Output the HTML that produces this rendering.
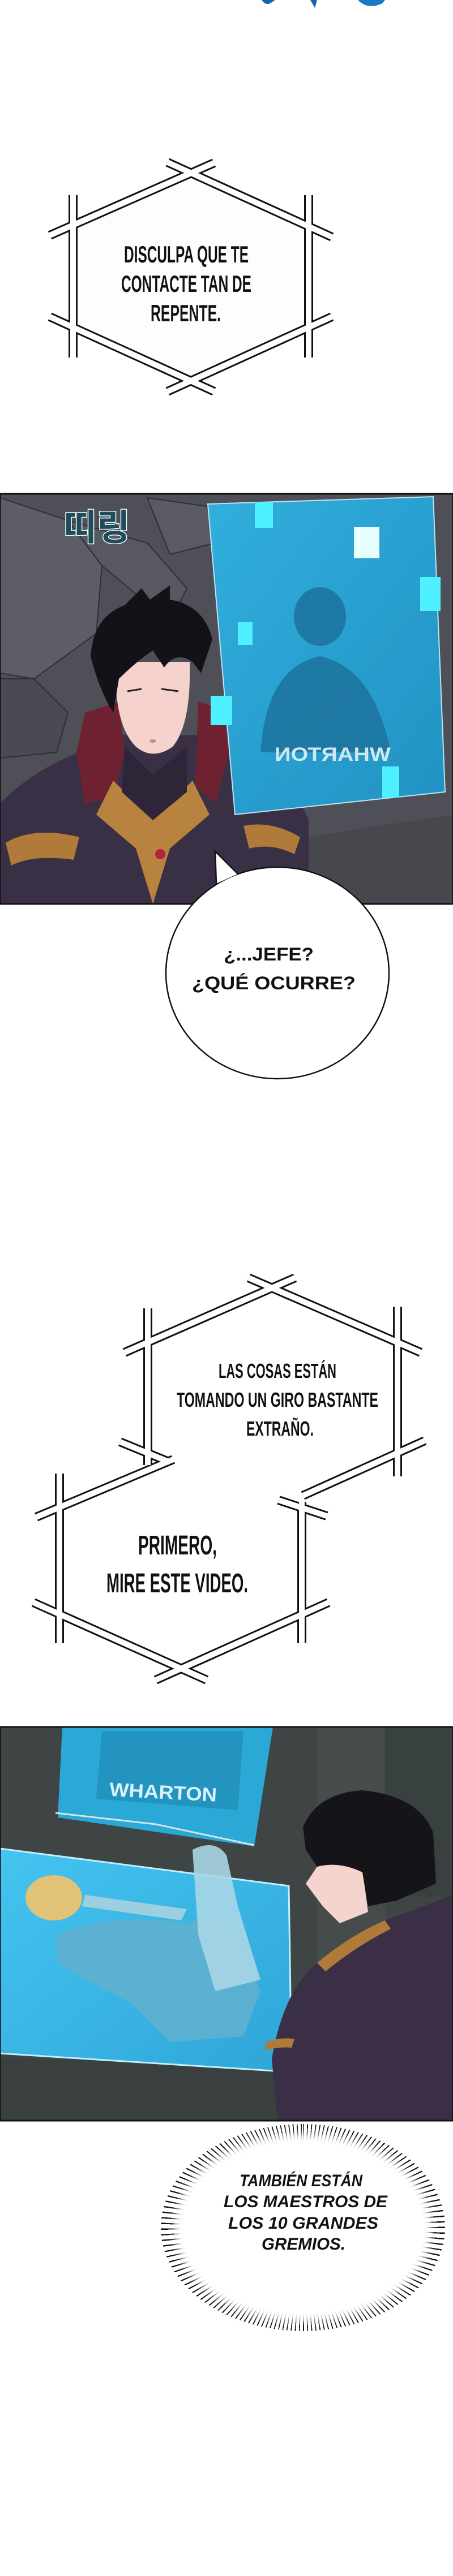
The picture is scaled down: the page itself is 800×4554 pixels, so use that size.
<!DOCTYPE html>
<html><head><meta charset="utf-8">
<style>
html,body{margin:0;padding:0;background:#fff;}
body{width:800px;height:4554px;position:relative;overflow:hidden;}
#spk{position:absolute;left:284px;top:3755px;width:502px;height:366px;border-radius:50%;
background:repeating-conic-gradient(from 0deg at 50% 50%,#111 0deg .55deg,#fff .55deg 2.3deg);}
#spkin{position:absolute;left:36px;top:30px;right:36px;bottom:30px;border-radius:50%;background:#fff;box-shadow:0 0 14px 12px #fff;}
svg{position:absolute;left:0;top:0;}
</style></head><body>
<div id="spk"><div id="spkin"></div></div>
<svg width="800" height="4554" viewBox="0 0 800 4554" xmlns="http://www.w3.org/2000/svg" font-family="'Liberation Sans', sans-serif">
<defs>
<linearGradient id="card" x1="0" y1="0" x2="1" y2="1"><stop offset="0" stop-color="#2fb4e4"/><stop offset="1" stop-color="#1f95c8"/></linearGradient>
<linearGradient id="vid" x1="0" y1="0" x2="1" y2="1"><stop offset="0" stop-color="#45c4f0"/><stop offset="1" stop-color="#2ea6d8"/></linearGradient>
</defs>
<!-- top blue strokes -->
<path d="M462 0 Q470 12 480 4 L486 0Z" fill="#1565b0"/>
<path d="M548 0 L556 14 L560 0Z" fill="#1565b0"/>
<path d="M632 0 Q650 18 675 6 L680 0Z" fill="#1a78c8"/>

<!-- HEX 1 -->
<polygon points="337,306 545,400 545,578 337,673 129,578 129,398" fill="#fbfdff"/>
<g stroke-linecap="butt" fill="none">
<g stroke="#111" stroke-width="16">
<line x1="88" y1="416" x2="378" y2="288"/><line x1="296" y1="287" x2="586" y2="419"/>
<line x1="545" y1="345" x2="545" y2="632"/><line x1="586" y1="560" x2="296" y2="692"/>
<line x1="378" y1="692" x2="88" y2="560"/><line x1="129" y1="632" x2="129" y2="345"/>
</g>
<g stroke="#fff" stroke-width="10">
<line x1="88" y1="416" x2="378" y2="288"/><line x1="296" y1="287" x2="586" y2="419"/>
<line x1="545" y1="345" x2="545" y2="632"/><line x1="586" y1="560" x2="296" y2="692"/>
<line x1="378" y1="692" x2="88" y2="560"/><line x1="129" y1="632" x2="129" y2="345"/>
</g></g>
<g font-weight="bold" font-size="42" fill="#111">
<text x="219" y="464" textLength="220" lengthAdjust="spacingAndGlyphs">DISCULPA QUE TE</text>
<text x="214" y="516" textLength="230" lengthAdjust="spacingAndGlyphs">CONTACTE TAN DE</text>
<text x="266" y="568" textLength="124" lengthAdjust="spacingAndGlyphs">REPENTE.</text>
</g>

<!-- PANEL 1 -->
<rect x="0" y="873" width="800" height="725" fill="#4f4f57"/>
<path d="M0 880 L120 920 L180 1000 L170 1120 L60 1200 L0 1190Z" fill="#5d5d66" stroke="#2e2e34" stroke-width="2"/>
<path d="M120 920 L260 960 L330 1040 L300 1100 L180 1000Z" fill="#585861" stroke="#2e2e34" stroke-width="2"/>
<path d="M260 880 L400 900 L380 960 L300 980Z" fill="#5a5a63" stroke="#2e2e34" stroke-width="2"/>
<path d="M0 1200 L60 1200 L120 1260 L100 1330 L0 1340Z" fill="#4a4a52" stroke="#2e2e34" stroke-width="2"/>
<path d="M540 1480 L800 1440 L800 1598 L540 1598Z" fill="#47474e"/>
<!-- character body -->
<path d="M0 1420 Q60 1360 140 1330 L200 1300 L350 1300 L430 1340 Q520 1380 545 1450 L545 1598 L0 1598Z" fill="#3a3045"/>
<path d="M135 1330 L150 1260 L210 1240 L220 1330 L200 1410 L150 1420Z" fill="#6e2231"/>
<path d="M350 1240 L395 1255 L405 1330 L380 1420 L345 1390Z" fill="#6e2231"/>
<path d="M200 1380 L270 1450 L340 1380 L370 1440 L300 1500 L270 1598 L240 1500 L170 1440Z" fill="#b8823f"/>
<path d="M10 1490 Q60 1460 140 1480 L130 1520 Q60 1510 20 1530Z" fill="#b07a3a"/>
<path d="M430 1460 Q480 1450 530 1480 L520 1510 Q480 1490 440 1500Z" fill="#b07a3a"/>
<circle cx="283" cy="1510" r="9" fill="#b3223e"/>
<path d="M220 1320 L270 1370 L330 1320 L330 1400 L270 1450 L215 1400Z" fill="#2e2638"/>
<!-- head -->
<path d="M205 1170 Q200 1280 240 1320 Q270 1345 305 1320 Q338 1280 335 1170Z" fill="#f6d2cc"/>
<path d="M160 1160 Q165 1090 220 1070 L250 1040 L265 1060 L300 1035 L300 1060 Q360 1070 375 1130 L355 1190 L340 1170 Q310 1150 290 1180 L270 1150 Q240 1170 210 1200 L200 1260 Q175 1220 160 1160Z" fill="#121218"/>
<line x1="225" y1="1222" x2="250" y2="1218" stroke="#222" stroke-width="3"/>
<line x1="285" y1="1218" x2="315" y2="1222" stroke="#222" stroke-width="3"/>
<ellipse cx="270" cy="1310" rx="6" ry="3" fill="#c88"/>
<!-- blue card -->
<polygon points="367,891 765,878 786,1400 415,1440" fill="url(#card)" opacity="0.95"/>
<polygon points="367,891 765,878 786,1400 415,1440" fill="none" stroke="#bfe4f2" stroke-width="2"/>
<ellipse cx="565" cy="1090" rx="46" ry="52" fill="#1b6f98" opacity="0.8"/>
<path d="M460 1330 Q470 1180 565 1160 Q660 1180 690 1330Z" fill="#1b6f98" opacity="0.8"/>
<text x="-690" y="1345" transform="scale(-1,1)" font-weight="bold" font-size="34" fill="#cfe8f0" textLength="205" lengthAdjust="spacingAndGlyphs">WHARTON</text>
<g fill="#4ff0ff">
<rect x="450" y="888" width="32" height="45"/><rect x="625" y="932" width="45" height="55" fill="#e8ffff"/>
<rect x="742" y="1020" width="36" height="60"/><rect x="420" y="1100" width="26" height="40"/>
<rect x="372" y="1230" width="38" height="52"/><rect x="675" y="1355" width="30" height="55"/>
</g>
<text x="112" y="955" font-family="'Noto Sans CJK KR', sans-serif" font-weight="bold" font-size="64" fill="#1b4d5a" stroke="#fff" stroke-width="3" paint-order="stroke">띠링</text>
<rect x="0" y="873" width="800" height="725" fill="none" stroke="#111" stroke-width="3"/>

<!-- round bubble -->
<ellipse cx="490" cy="1720" rx="197" ry="187" fill="#fff" stroke="#111" stroke-width="2.5"/>
<path d="M382 1562 L380 1505 L420 1545" fill="#fff" stroke="#111" stroke-width="2.5"/>
<g font-weight="bold" font-size="32" fill="#111">
<text x="395" y="1698" textLength="159" lengthAdjust="spacingAndGlyphs">¿...JEFE?</text>
<text x="339" y="1749" textLength="289" lengthAdjust="spacingAndGlyphs">¿QUÉ OCURRE?</text>
</g>

<!-- HEX 2 -->
<polygon points="480,2277 702,2373 702,2557 533,2639 533,2853 319,2950 105,2853 105,2669 261,2593 261,2373" fill="#fff"/>
<g stroke-linecap="butt" fill="none">
<g stroke="#111" stroke-width="16">
<line x1="220" y1="2391" x2="521" y2="2259"/><line x1="439" y1="2259" x2="743" y2="2391"/>
<line x1="702" y1="2310" x2="702" y2="2610"/><line x1="750" y1="2547" x2="535" y2="2644"/>
<line x1="533" y1="2655" x2="533" y2="2905"/><line x1="580" y1="2833" x2="275" y2="2970"/>
<line x1="365" y1="2970" x2="59" y2="2833"/><line x1="105" y1="2605" x2="105" y2="2905"/>
<line x1="64" y1="2682" x2="306" y2="2580"/><line x1="261" y1="2313" x2="261" y2="2590"/>
<line x1="212" y1="2549" x2="300" y2="2585"/><line x1="492" y1="2652" x2="577" y2="2680"/>
</g>
<g stroke="#fff" stroke-width="10">
<line x1="220" y1="2391" x2="521" y2="2259"/><line x1="439" y1="2259" x2="743" y2="2391"/>
<line x1="702" y1="2310" x2="702" y2="2610"/><line x1="750" y1="2547" x2="535" y2="2644"/>
<line x1="533" y1="2655" x2="533" y2="2905"/><line x1="580" y1="2833" x2="275" y2="2970"/>
<line x1="365" y1="2970" x2="59" y2="2833"/><line x1="105" y1="2605" x2="105" y2="2905"/>
<line x1="64" y1="2682" x2="306" y2="2580"/><line x1="261" y1="2313" x2="261" y2="2590"/>
<line x1="212" y1="2549" x2="300" y2="2585"/><line x1="492" y1="2652" x2="577" y2="2680"/>
</g></g>
<g font-weight="bold" fill="#111">
<text x="386" y="2436" font-size="36" textLength="208" lengthAdjust="spacingAndGlyphs">LAS COSAS ESTÁN</text>
<text x="312" y="2487" font-size="36" textLength="356" lengthAdjust="spacingAndGlyphs">TOMANDO UN GIRO BASTANTE</text>
<text x="435" y="2538" font-size="36" textLength="119" lengthAdjust="spacingAndGlyphs">EXTRAÑO.</text>
<text x="244" y="2748" font-size="48" textLength="139" lengthAdjust="spacingAndGlyphs">PRIMERO,</text>
<text x="188" y="2815" font-size="48" textLength="250" lengthAdjust="spacingAndGlyphs">MIRE ESTE VIDEO.</text>
</g>

<!-- PANEL 2 -->
<rect x="0" y="3053" width="800" height="696" fill="#3f4545"/>
<rect x="560" y="3053" width="120" height="696" fill="#454c4b"/>
<rect x="680" y="3053" width="120" height="300" fill="#394040"/>
<rect x="0" y="3640" width="520" height="109" fill="#3a4040"/>
<polygon points="110,3053 482,3053 449,3264 102,3213" fill="#2aa8d6"/>
<path d="M180 3060 L430 3060 L420 3200 L170 3180Z" fill="#1f8bb5" opacity="0.7"/>
<polyline points="98,3205 275,3225 449,3262" fill="none" stroke="#d8e4ea" stroke-width="3"/>
<text x="193" y="3180" font-weight="bold" font-size="34" fill="#d8f2fa" transform="rotate(3 290 3170)" textLength="190" lengthAdjust="spacingAndGlyphs">WHARTON</text>
<polygon points="0,3268 510,3334 515,3663 0,3630" fill="url(#vid)" stroke="#bff0ff" stroke-width="3"/>
<ellipse cx="95" cy="3355" rx="50" ry="40" fill="#f3c36a" opacity="0.9"/>
<path d="M100 3420 Q200 3380 330 3400 L380 3380 L420 3420 L460 3520 L430 3600 L300 3610 L230 3540 Q150 3500 100 3470Z" fill="#5fb0cf" opacity="0.9"/>
<path d="M340 3270 Q380 3250 400 3280 L420 3370 L460 3500 L380 3520 L350 3420Z" fill="#a8d6e6" opacity="0.9"/>
<path d="M150 3350 L330 3375 L320 3395 L145 3370Z" fill="#9ccfe0"/>
<!-- character panel 2 -->
<path d="M490 3749 L480 3640 Q500 3520 560 3470 Q620 3420 680 3395 L800 3350 L800 3749Z" fill="#3a2f46"/>
<path d="M560 3470 Q620 3420 680 3395 L690 3410 Q630 3440 575 3485Z" fill="#b07a3a"/>
<path d="M470 3610 Q500 3600 520 3605 L515 3620 Q490 3618 468 3625Z" fill="#b07a3a"/>
<path d="M540 3330 L560 3300 Q600 3280 640 3305 L650 3380 L600 3400 L570 3370Z" fill="#f4d4cc"/>
<path d="M535 3230 Q560 3170 640 3165 Q740 3175 765 3240 L770 3330 L700 3360 L650 3370 L640 3310 Q600 3290 560 3300 L540 3270Z" fill="#141419"/>
<rect x="0" y="3053" width="800" height="696" fill="none" stroke="#111" stroke-width="3"/>

<!-- spiky bubble text -->
<g font-weight="bold" font-style="italic" font-size="30" fill="#111">
<text x="423" y="3865" textLength="217" lengthAdjust="spacingAndGlyphs">TAMBIÉN ESTÁN</text>
<text x="395" y="3902" textLength="289" lengthAdjust="spacingAndGlyphs">LOS MAESTROS DE</text>
<text x="403" y="3940" textLength="265" lengthAdjust="spacingAndGlyphs">LOS 10 GRANDES</text>
<text x="462" y="3977" textLength="148" lengthAdjust="spacingAndGlyphs">GREMIOS.</text>
</g>
</svg>
</body></html>
